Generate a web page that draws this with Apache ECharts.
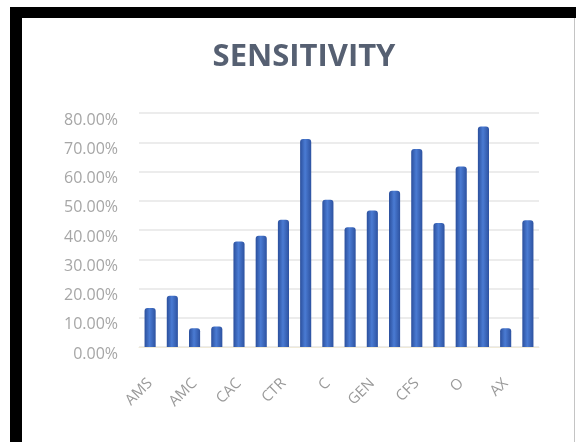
<!DOCTYPE html>
<html>
<head>
<meta charset="utf-8">
<script src="https://cdn.jsdelivr.net/npm/echarts@6/dist/echarts.min.js"></script>
<style>
html,body{margin:0;padding:0;background:#fff;}
#chart{width:576px;height:442px;}
</style>
</head>
<body>
<div id="chart"></div>
<script>
// Category labels (only every other category label is legible in the source)
const categories = ["AMS", "", "AMC", "", "CAC", "", "CTR", "", "C", "", "GEN", "", "CFS", "", "O", "", "AX", ""];
// Sensitivity values (fractions)
const sensitivity = [0.133, 0.175, 0.064, 0.070, 0.361, 0.380, 0.435, 0.711, 0.503, 0.409, 0.467, 0.534, 0.677, 0.424, 0.617, 0.754, 0.064, 0.433];
const yTicks = { min: 0, max: 0.8, interval: 0.1 };
const titleText = "SENSITIVITY";

const chart = echarts.init(document.getElementById('chart'), null, { renderer: 'canvas' });
chart.setOption({
  backgroundColor: '#ffffff',
  animation: false,
  title: {
    text: titleText,
    left: 299,
    textAlign: 'center',
    top: 37,
    textStyle: { fontFamily: 'Open Sans', fontWeight: 'bold', fontSize: 31, color: '#566072' }
  },
  graphic: [
    { type: 'rect', shape: { x: 10, y: 7, width: 566, height: 11 }, style: { fill: '#000' }, silent: true },
    { type: 'rect', shape: { x: 10, y: 7, width: 12, height: 435 }, style: { fill: '#000' }, silent: true },
    { type: 'rect', shape: { x: 574, y: 18, width: 1, height: 424 }, style: { fill: '#c4c4c4' }, silent: true }
  ],
  grid: { left: 139, right: 37, top: 113, bottom: 95, containLabel: false },
  xAxis: {
    type: 'category',
    data: categories,
    axisLine: { show: true, lineStyle: { color: '#f0ead8', width: 1 } },
    axisTick: { show: false },
    axisLabel: {
      interval: 0,
      rotate: 45,
      margin: 34,
      fontFamily: 'Open Sans',
      fontSize: 15,
      color: '#9a9a9a'
    }
  },
  yAxis: {
    type: 'value',
    min: yTicks.min,
    max: yTicks.max,
    interval: yTicks.interval,
    axisLine: { show: false },
    axisTick: { show: false },
    splitLine: { lineStyle: { color: '#e6e6e6', width: 1.5 } },
    axisLabel: {
      margin: 21,
      fontFamily: 'Open Sans',
      fontSize: 16,
      color: '#a6a6a6',
      verticalAlign: 'top',
      lineHeight: 14,
      formatter: v => (v * 100).toFixed(2) + '%'
    }
  },
  series: [{
    type: 'bar',
    data: sensitivity,
    barWidth: '50%',
    itemStyle: {
      borderRadius: [3, 3, 0, 0],
      color: new echarts.graphic.LinearGradient(0, 0, 1, 0, [
        { offset: 0, color: '#2b4f9c' },
        { offset: 0.45, color: '#4a7bd3' },
        { offset: 1, color: '#2d52a0' }
      ])
    }
  }]
});
</script>
</body>
</html>
